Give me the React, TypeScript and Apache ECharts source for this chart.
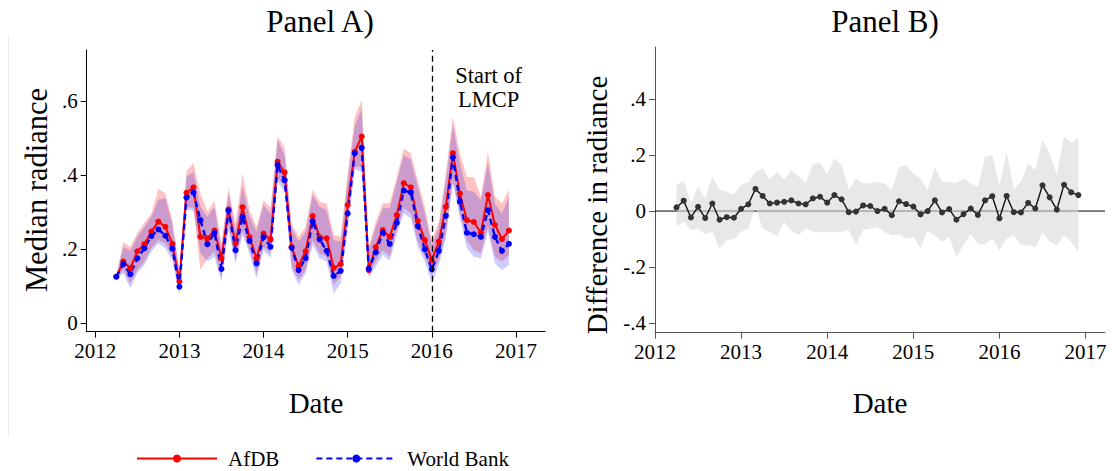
import React, { useEffect, useRef } from "react";
import * as echarts from "echarts";

// Monthly observation dates
const dates = [
  "2012-04", "2012-05", "2012-06", "2012-07", "2012-08", "2012-09", "2012-10", "2012-11", "2012-12",
  "2013-01", "2013-02", "2013-03", "2013-04", "2013-05", "2013-06", "2013-07", "2013-08", "2013-09", "2013-10", "2013-11", "2013-12",
  "2014-01", "2014-02", "2014-03", "2014-04", "2014-05", "2014-06", "2014-07", "2014-08", "2014-09", "2014-10", "2014-11", "2014-12",
  "2015-01", "2015-02", "2015-03", "2015-04", "2015-05", "2015-06", "2015-07", "2015-08", "2015-09", "2015-10", "2015-11", "2015-12",
  "2016-01", "2016-02", "2016-03", "2016-04", "2016-05", "2016-06", "2016-07", "2016-08", "2016-09", "2016-10", "2016-11", "2016-12",
];

// Panel A: median radiance with confidence bands
const afdb = [
  0.125, 0.166, 0.148, 0.194, 0.213, 0.247, 0.274, 0.260, 0.214, 0.112,
  0.352, 0.367, 0.233, 0.229, 0.250, 0.175, 0.307, 0.215, 0.313, 0.232,
  0.175, 0.242, 0.226, 0.436, 0.407, 0.205, 0.154, 0.194, 0.289, 0.232,
  0.229, 0.149, 0.159, 0.319, 0.463, 0.504, 0.143, 0.205, 0.251, 0.233,
  0.292, 0.378, 0.367, 0.276, 0.224, 0.170, 0.220, 0.314, 0.459, 0.350,
  0.278, 0.273, 0.244, 0.346, 0.265, 0.227, 0.250,
];
const afdbHi = [
  0.130, 0.218, 0.206, 0.244, 0.271, 0.296, 0.362, 0.351, 0.278, 0.143,
  0.411, 0.432, 0.351, 0.301, 0.330, 0.215, 0.367, 0.269, 0.405, 0.305,
  0.260, 0.332, 0.313, 0.505, 0.475, 0.269, 0.233, 0.260, 0.361, 0.328,
  0.323, 0.238, 0.233, 0.405, 0.556, 0.603, 0.206, 0.274, 0.323, 0.325,
  0.395, 0.472, 0.459, 0.386, 0.314, 0.224, 0.274, 0.405, 0.558, 0.459,
  0.395, 0.394, 0.341, 0.463, 0.341, 0.323, 0.361,
];
const afdbLo = [
  0.122, 0.143, 0.107, 0.143, 0.166, 0.202, 0.224, 0.215, 0.179, 0.085,
  0.314, 0.310, 0.143, 0.175, 0.193, 0.123, 0.265, 0.170, 0.251, 0.197,
  0.134, 0.206, 0.188, 0.391, 0.369, 0.152, 0.116, 0.143, 0.224, 0.188,
  0.179, 0.103, 0.125, 0.269, 0.422, 0.422, 0.130, 0.166, 0.197, 0.179,
  0.251, 0.310, 0.296, 0.220, 0.179, 0.130, 0.170, 0.242, 0.386, 0.296,
  0.224, 0.197, 0.188, 0.260, 0.179, 0.166, 0.184,
];
const worldBank = [
  0.125, 0.159, 0.132, 0.175, 0.202, 0.235, 0.253, 0.236, 0.201, 0.098,
  0.339, 0.353, 0.278, 0.213, 0.244, 0.146, 0.304, 0.197, 0.287, 0.222,
  0.161, 0.232, 0.206, 0.427, 0.386, 0.204, 0.143, 0.175, 0.275, 0.226,
  0.195, 0.127, 0.141, 0.296, 0.459, 0.474, 0.147, 0.191, 0.244, 0.214,
  0.271, 0.358, 0.353, 0.262, 0.199, 0.145, 0.195, 0.290, 0.448, 0.328,
  0.244, 0.240, 0.233, 0.305, 0.233, 0.195, 0.214,
];
const worldBankHi = [
  0.128, 0.206, 0.195, 0.233, 0.260, 0.287, 0.334, 0.337, 0.265, 0.134,
  0.395, 0.409, 0.314, 0.287, 0.314, 0.202, 0.350, 0.251, 0.369, 0.287,
  0.247, 0.319, 0.296, 0.495, 0.454, 0.256, 0.220, 0.247, 0.346, 0.314,
  0.305, 0.224, 0.220, 0.386, 0.531, 0.580, 0.197, 0.260, 0.310, 0.310,
  0.382, 0.454, 0.441, 0.369, 0.296, 0.211, 0.260, 0.386, 0.535, 0.432,
  0.359, 0.355, 0.332, 0.432, 0.323, 0.296, 0.341,
];
const worldBankLo = [
  0.120, 0.134, 0.094, 0.135, 0.157, 0.193, 0.215, 0.202, 0.166, 0.076,
  0.305, 0.304, 0.188, 0.166, 0.179, 0.112, 0.251, 0.161, 0.238, 0.188,
  0.121, 0.197, 0.175, 0.382, 0.355, 0.143, 0.103, 0.134, 0.211, 0.175,
  0.166, 0.080, 0.107, 0.251, 0.414, 0.409, 0.123, 0.152, 0.184, 0.168,
  0.238, 0.296, 0.283, 0.206, 0.166, 0.107, 0.157, 0.229, 0.378, 0.283,
  0.202, 0.179, 0.175, 0.247, 0.161, 0.143, 0.157,
];

// Panel B: difference in radiance with confidence band
const diff = [
  0.013, 0.037, -0.023, 0.015, -0.025, 0.027, -0.031, -0.022, -0.024, 0.008,
  0.024, 0.079, 0.054, 0.027, 0.030, 0.033, 0.038, 0.027, 0.024, 0.045,
  0.051, 0.030, 0.057, 0.042, -0.004, -0.002, 0.020, 0.018, 0.000, 0.008,
  -0.015, 0.035, 0.025, 0.016, -0.012, 0.000, 0.038, -0.005, 0.007, -0.031,
  -0.011, 0.009, -0.014, 0.038, 0.053, -0.026, 0.054, -0.004, -0.005, 0.029,
  0.009, 0.092, 0.049, 0.005, 0.094, 0.067, 0.057,
];
const diffHi = [
  0.093, 0.107, 0.030, 0.087, 0.045, 0.123, 0.077, 0.069, 0.060, 0.093,
  0.103, 0.140, 0.152, 0.113, 0.140, 0.113, 0.146, 0.123, 0.099, 0.167,
  0.173, 0.132, 0.188, 0.164, 0.075, 0.117, 0.099, 0.099, 0.104, 0.098,
  0.074, 0.157, 0.163, 0.134, 0.116, 0.074, 0.157, 0.104, 0.104, 0.100,
  0.116, 0.098, 0.086, 0.193, 0.199, 0.091, 0.211, 0.080, 0.104, 0.169,
  0.145, 0.253, 0.205, 0.128, 0.267, 0.243, 0.262,
];
const diffLo = [
  -0.056, -0.038, -0.068, -0.062, -0.083, -0.074, -0.133, -0.104, -0.101, -0.074,
  -0.062, 0.015, -0.062, -0.074, -0.089, -0.038, -0.071, -0.086, -0.062, -0.074,
  -0.076, -0.076, -0.076, -0.074, -0.068, -0.121, -0.068, -0.062, -0.057, -0.075,
  -0.087, -0.083, -0.099, -0.093, -0.134, -0.069, -0.087, -0.111, -0.093, -0.162,
  -0.122, -0.083, -0.117, -0.119, -0.099, -0.140, -0.099, -0.087, -0.122, -0.122,
  -0.129, -0.075, -0.111, -0.122, -0.087, -0.111, -0.146,
];

// Axis ticks
const yearTicks = [2012, 2013, 2014, 2015, 2016, 2017];
const radianceTicks = [0, 0.2, 0.4, 0.6];
const diffTicks = [-0.4, -0.2, 0, 0.2, 0.4];

// Programme start and its annotation (two lines, anchored in data units)
const lmcpStart = 2016;
const lmcpLines = ["Start of", "LMCP"];
const lmcpLineAt = [
  [2016.675, 0.670],
  [2016.675, 0.604],
];

const FONT = "'Liberation Serif', 'DejaVu Serif', serif";

const toYear = (d: string) => {
  const [y, m] = d.split("-").map(Number);
  return y + (m - 1) / 12;
};
const xs = dates.map(toYear);
const pairs = (vals: number[]) => xs.map((x, i) => [x, vals[i]]);

const fmtTick = (v: number) => {
  if (Math.abs(v) < 1e-9) return "0";
  return v.toFixed(1).replace("0.", ".");
};

// Filled band between two bounds, drawn as one polygon through the axis scales
function bandSeries(
  hi: number[],
  lo: number[],
  fill: string,
  axisIndex: number,
  withZeroLine = false
) {
  return {
    type: "custom",
    xAxisIndex: axisIndex,
    yAxisIndex: axisIndex,
    silent: true,
    data: [[xs[0], hi[0]]],
    renderItem: (params: any, api: any) => {
      const upper = xs.map((x, i) => api.coord([x, hi[i]]));
      const lower = xs.map((x, i) => api.coord([x, lo[i]])).reverse();
      const children: any[] = [];
      if (withZeroLine) {
        const cs = params.coordSys;
        const y0 = api.coord([xs[0], 0])[1];
        children.push({
          type: "line",
          shape: { x1: cs.x, y1: y0, x2: cs.x + cs.width, y2: y0 },
          style: { stroke: "#000", lineWidth: 1 },
        });
      }
      children.push({
        type: "polygon",
        shape: { points: upper.concat(lower) },
        style: { fill },
      });
      return { type: "group", children };
    },
  };
}

function axisCommon(color: string) {
  return {
    axisLine: { show: true, onZero: false, lineStyle: { color, width: 1 } },
    splitLine: { show: false },
    axisLabel: {
      color: "#000",
      fontFamily: FONT,
      fontSize: 21,
      margin: 9,
      formatter: fmtTick,
    },
    axisTick: { show: true, inside: false, length: 6, lineStyle: { color, width: 1 } },
  };
}

function xAxisFor(gridIndex: number, min: number, max: number, color: string) {
  const c = axisCommon(color);
  return {
    type: "value",
    gridIndex,
    min,
    max,
    axisLine: c.axisLine,
    splitLine: c.splitLine,
    axisTick: { ...c.axisTick, customValues: yearTicks },
    axisLabel: { ...c.axisLabel, formatter: (v: number) => String(Math.round(v)), customValues: yearTicks },
  };
}

function yAxisFor(gridIndex: number, min: number, max: number, ticks: number[], color: string) {
  const c = axisCommon(color);
  return {
    type: "value",
    gridIndex,
    min,
    max,
    axisLine: c.axisLine,
    splitLine: c.splitLine,
    axisTick: { ...c.axisTick, customValues: ticks },
    axisLabel: { ...c.axisLabel, customValues: ticks },
  };
}

function titleText(text: string, x: number, y: number, size: number, rotate = 0) {
  return {
    type: "text",
    x,
    y,
    rotation: rotate,
    silent: true,
    style: {
      text,
      fill: "#000",
      font: `${size}px ${FONT}`,
      align: "center",
      verticalAlign: "middle",
    },
  };
}

export default function App() {
  const ref = useRef<HTMLDivElement>(null);

  useEffect(() => {
    if (!ref.current) return;
    const chart = echarts.init(ref.current, null, { renderer: "svg" });

    const graphics: any[] = [
      {
        type: "line",
        silent: true,
        shape: { x1: 8.5, y1: 35, x2: 8.5, y2: 437 },
        style: { stroke: "#e8eeee", lineWidth: 1 },
      },
      titleText("Panel A)", 320, 21, 31),
      titleText("Panel B)", 885, 21, 31),
      titleText("Median radiance", 37, 190, 30.5, Math.PI / 2),
      titleText("Difference in radiance", 597, 205, 29, Math.PI / 2),
      titleText("Date", 316, 403, 29),
      titleText("Date", 880, 403, 29),
    ];

    const option: any = {
      animation: false,
      backgroundColor: "#fff",
      grid: [
        { left: 86.7, top: 50, width: 458.3, height: 281.7 },
        { left: 655, top: 47, width: 450, height: 285.7 },
      ],
      xAxis: [
        xAxisFor(0, 2011.898, 2017.345, "#000"),
        xAxisFor(1, 2012, 2017.226, "#555"),
      ],
      yAxis: [
        yAxisFor(0, -0.0235, 0.738, radianceTicks, "#000"),
        yAxisFor(1, -0.4346, 0.586, diffTicks, "#555"),
      ],
      legend: {
        data: ["AfDB", "World Bank"],
        left: 131,
        top: 443,
        itemWidth: 80,
        itemHeight: 10,
        itemGap: 36,
        textStyle: { fontFamily: FONT, fontSize: 21, color: "#000", padding: [0, 0, 0, 6] },
      },
      graphic: graphics,
      series: [
        bandSeries(afdbHi, afdbLo, "rgba(255,0,0,0.24)", 0),
        bandSeries(worldBankHi, worldBankLo, "rgba(0,0,255,0.2)", 0),
        {
          name: "AfDB",
          type: "line",
          xAxisIndex: 0,
          yAxisIndex: 0,
          data: pairs(afdb),
          symbol: "circle",
          symbolSize: 6,
          itemStyle: { color: "#ff0000" },
          lineStyle: { color: "#ff0000", width: 2 },
          markLine: {
            silent: true,
            symbol: ["none", "none"],
            label: { show: false },
            lineStyle: { color: "#000", type: [6, 4], width: 1.3 },
            data: [{ xAxis: lmcpStart }],
          },
        },
        {
          name: "World Bank",
          type: "line",
          xAxisIndex: 0,
          yAxisIndex: 0,
          data: pairs(worldBank),
          symbol: "circle",
          symbolSize: 6,
          itemStyle: { color: "#0000ff" },
          lineStyle: { color: "#0000ff", width: 2.4, type: [6, 4] },
        },
        bandSeries(diffHi, diffLo, "rgba(216,216,216,0.6)", 1, true),
        {
          name: "Difference",
          type: "line",
          xAxisIndex: 1,
          yAxisIndex: 1,
          data: pairs(diff),
          symbol: "circle",
          symbolSize: 6,
          itemStyle: { color: "#333" },
          lineStyle: { color: "#111", width: 1.4 },
        },
      ],
    };

    chart.setOption(option);

    // Place the programme annotation through the panel's axis scales
    const notes = lmcpLines.map((t, i) => {
      const [px, py] = chart.convertToPixel({ gridIndex: 0 }, lmcpLineAt[i]) as number[];
      return titleText(t, px, py, 22.5);
    });
    chart.setOption({ graphic: graphics.concat(notes) });

    return () => chart.dispose();
  }, []);

  return (
    <div
      ref={ref}
      style={{ position: "absolute", left: 0, top: 0, width: 1112, height: 471 }}
    />
  );
}
